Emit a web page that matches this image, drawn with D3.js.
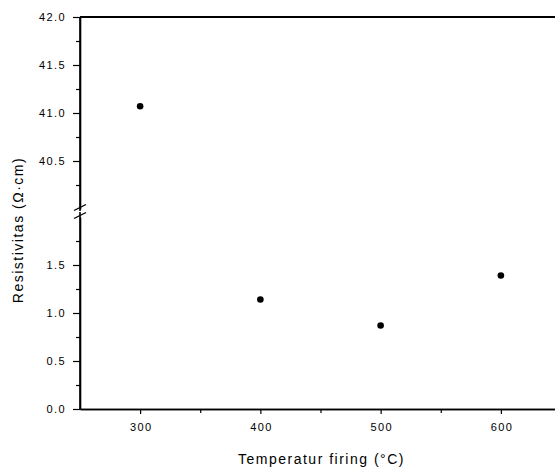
<!DOCTYPE html>
<html><head><meta charset="utf-8">
<script src="https://cdn.jsdelivr.net/npm/d3@7"></script>
<style>body{margin:0;background:#fff}svg{display:block}text{font-family:"Liberation Sans",Arial,sans-serif;fill:#000}</style>
</head><body>
<script>
const temps = [300, 400, 500, 600];
const resistivity = [41.07, 1.14, 0.87, 1.39];
const xTicks = [300, 400, 500, 600];
const xMinor = [350, 450, 550];
const yLowTicks = [0.0, 0.5, 1.0, 1.5];
const yLowMinor = [0.25, 0.75, 1.25, 1.75];
const yHighTicks = [40.5, 41.0, 41.5, 42.0];
const yHighMinor = [40.25, 40.75, 41.25, 41.75];
const xTitle = "Temperatur firing (°C)";
const yTitle = "Resistivitas (Ω·cm)";

(function () {
const W = 555, H = 468;
const svg = d3.select("body").append("svg").attr("width", W).attr("height", H);
const pl = 80, pr = 561, pt = 17, pb = 409;
const x = d3.scaleLinear().domain([250, 650]).range([pl, pr]);
const yLow = d3.scaleLinear().domain([0, 2]).range([pb, 217]);
const yHigh = d3.scaleLinear().domain([40, 42]).range([209, pt]);
const y = v => v > 20 ? yHigh(v) : yLow(v);

// X axis
const gx = svg.append("g").attr("transform", `translate(0,${pb})`);
gx.call(d3.axisBottom(x).tickValues(xTicks).tickSize(5).tickSizeOuter(0).tickFormat(d3.format("d")));
gx.append("g").call(d3.axisBottom(x).tickValues(xMinor).tickSize(4).tickSizeOuter(0).tickFormat(""));
gx.selectAll("text").attr("font-size", 11).attr("dy", "1.25em").attr("dx", "0.7px").style("letter-spacing", "1.4px");

// Y axis low
const gyl = svg.append("g").attr("transform", `translate(${pl},0)`);
gyl.call(d3.axisLeft(yLow).tickValues(yLowTicks).tickSize(7).tickSizeOuter(0).tickFormat(d3.format(".1f")));
gyl.append("g").call(d3.axisLeft(yLow).tickValues(yLowMinor).tickSize(4).tickSizeOuter(0).tickFormat(""));
gyl.select(".domain").attr("d", `M0,${pb}V212`);
// Y axis high
const gyh = svg.append("g").attr("transform", `translate(${pl},0)`);
gyh.call(d3.axisLeft(yHigh).tickValues(yHighTicks).tickSize(7).tickSizeOuter(0).tickFormat(d3.format(".1f")));
gyh.append("g").call(d3.axisLeft(yHigh).tickValues(yHighMinor).tickSize(4).tickSizeOuter(0).tickFormat(""));
gyh.select(".domain").attr("d", `M0,${pt}V211`);
svg.selectAll(".domain").attr("stroke-width", 1.6);
svg.selectAll(".tick line").attr("stroke-width", 1.2);
[gyl, gyh].forEach(g => g.selectAll("text").attr("font-size", 11).attr("x", -14).style("letter-spacing", "1.4px"));

// top frame line
svg.append("line").attr("x1", pl).attr("x2", W).attr("y1", pt).attr("y2", pt)
  .attr("stroke", "#000").attr("stroke-width", 1.8);

// break marks
[207.5, 215.5].forEach(b => {
  svg.append("line").attr("x1", pl - 6).attr("x2", pl + 6).attr("y1", b + 3).attr("y2", b - 3)
    .attr("stroke", "#000").attr("stroke-width", 1.3);
});

// points
svg.append("g").selectAll("circle").data(temps).join("circle")
  .attr("cx", d => x(d)).attr("cy", (d, i) => y(resistivity[i])).attr("r", 3.3).attr("fill", "#000");

// titles
svg.append("text").attr("x", (pl + pr) / 2 + 1).attr("y", 464).attr("text-anchor", "middle")
  .attr("font-size", 14).style("letter-spacing", "1.5px").text(xTitle);
svg.append("text").attr("transform", `translate(23,230) rotate(-90)`).attr("text-anchor", "middle")
  .attr("font-size", 14).style("letter-spacing", "1.5px").text(yTitle);
})();
</script>
</body></html>
